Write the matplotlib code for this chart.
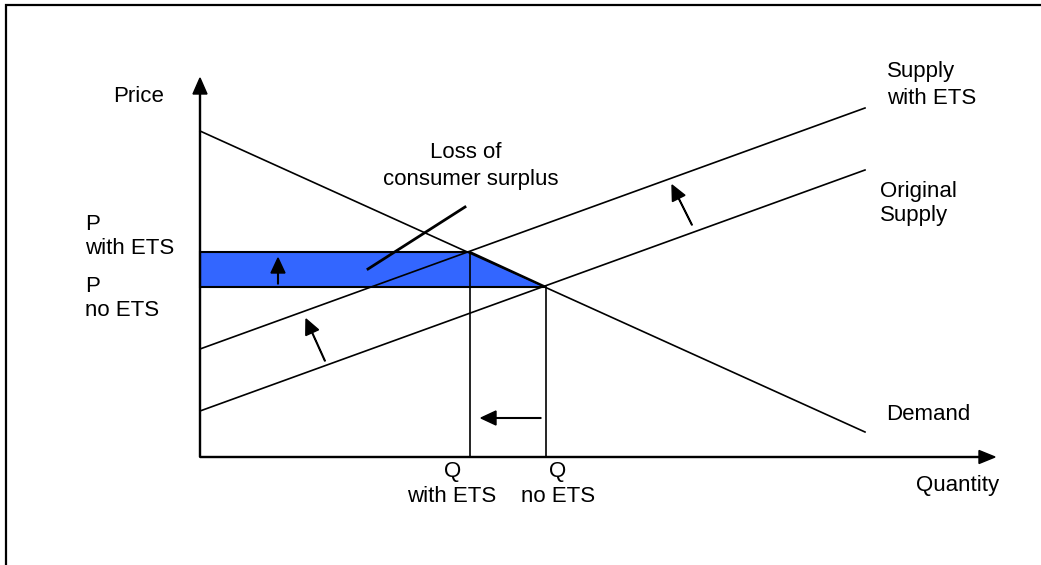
import matplotlib
matplotlib.use("Agg")
import matplotlib.pyplot as plt
from matplotlib.patches import Polygon, Rectangle

plt.rcParams['font.family'] = ['Liberation Sans', 'DejaVu Sans']

# ---- data (quantity, price) in diagram units ----
q_range = [0, 665]
demand_p = [326, 25]
supply_orig_p = [46, 287]
supply_ets_p = [108, 349]

q_with_ets, p_with_ets = 270, 205
q_no_ets, p_no_ets = 346, 170

axis_q_max = 795
axis_p_max = 379

# shift arrows: (tail_q, tail_p, tip_q, tip_p)
shift_arrows = [
    (78, 173, 78, 199),      # price up
    (341, 39, 281, 39),      # quantity left
    (125, 96, 106, 138),     # lower supply shift
    (492, 232, 472, 272),    # upper supply shift
]
pointer_line = [(168, 188), (265, 250)]

FS = 16

fig = plt.figure(figsize=(10.41, 5.65), dpi=100)
ax = fig.add_axes([0, 0, 1, 1])
ax.set_xlim(-200, 841)
ax.set_ylim(-108, 457)
ax.axis('off')

# frame
fig.patches.append(Rectangle((6 / 1041, -0.1), 1.2, (565 - 5) / 565 + 0.1,
                             transform=fig.transFigure, fill=False,
                             edgecolor='black', linewidth=1.6))

# shaded area
poly = Polygon([(0, p_with_ets), (q_with_ets, p_with_ets), (q_no_ets, p_no_ets), (0, p_no_ets)],
               closed=True, facecolor='#3366FF', edgecolor='black', linewidth=1.5, zorder=2)
ax.add_patch(poly)

lw = 1.2
ax.plot(q_range, demand_p, color='black', lw=lw, zorder=3)
ax.plot(q_range, supply_orig_p, color='black', lw=lw, zorder=3)
ax.plot(q_range, supply_ets_p, color='black', lw=lw, zorder=3)

ax.plot([q_with_ets, q_with_ets], [0, p_with_ets], color='black', lw=lw, zorder=3)
ax.plot([q_no_ets, q_no_ets], [0, p_no_ets], color='black', lw=lw, zorder=3)

# axes with arrows
ax.arrow(0, 0, 0, axis_p_max, width=1.0, head_width=14, head_length=16,
         length_includes_head=True, color='black', zorder=4)
ax.arrow(0, 0, axis_q_max, 0, width=1.0, head_width=13, head_length=16,
         length_includes_head=True, color='black', zorder=4)

for tq, tp, hq, hp in shift_arrows:
    ax.arrow(tq, tp, hq - tq, hp - tp, width=0.7, head_width=14, head_length=15,
             length_includes_head=True, color='black', zorder=5)

ax.plot([pointer_line[0][0], pointer_line[1][0]],
        [pointer_line[0][1], pointer_line[1][1]], color='black', lw=2.0, zorder=5)

def T(x, y, s, ha='left'):
    ax.text(x, y, s, fontsize=FS, ha=ha, va='center', color='black')

T(-87, 360, 'Price')
T(266, 305, 'Loss of', ha='center')
T(271, 278, 'consumer surplus', ha='center')
T(687, 385, 'Supply')
T(687, 359, 'with ETS')
T(680, 266, 'Original')
T(680, 241, 'Supply')
T(686, 42, 'Demand')
T(716, -28, 'Quantity')
T(-115, 233, 'P')
T(-115, 209, 'with ETS')
T(-115, 171, 'P')
T(-115, 147, 'no ETS')
T(253, -15, 'Q', ha='center')
T(252, -39, 'with ETS', ha='center')
T(358, -15, 'Q', ha='center')
T(358, -39, 'no ETS', ha='center')

fig.savefig('out.png', dpi=100)
